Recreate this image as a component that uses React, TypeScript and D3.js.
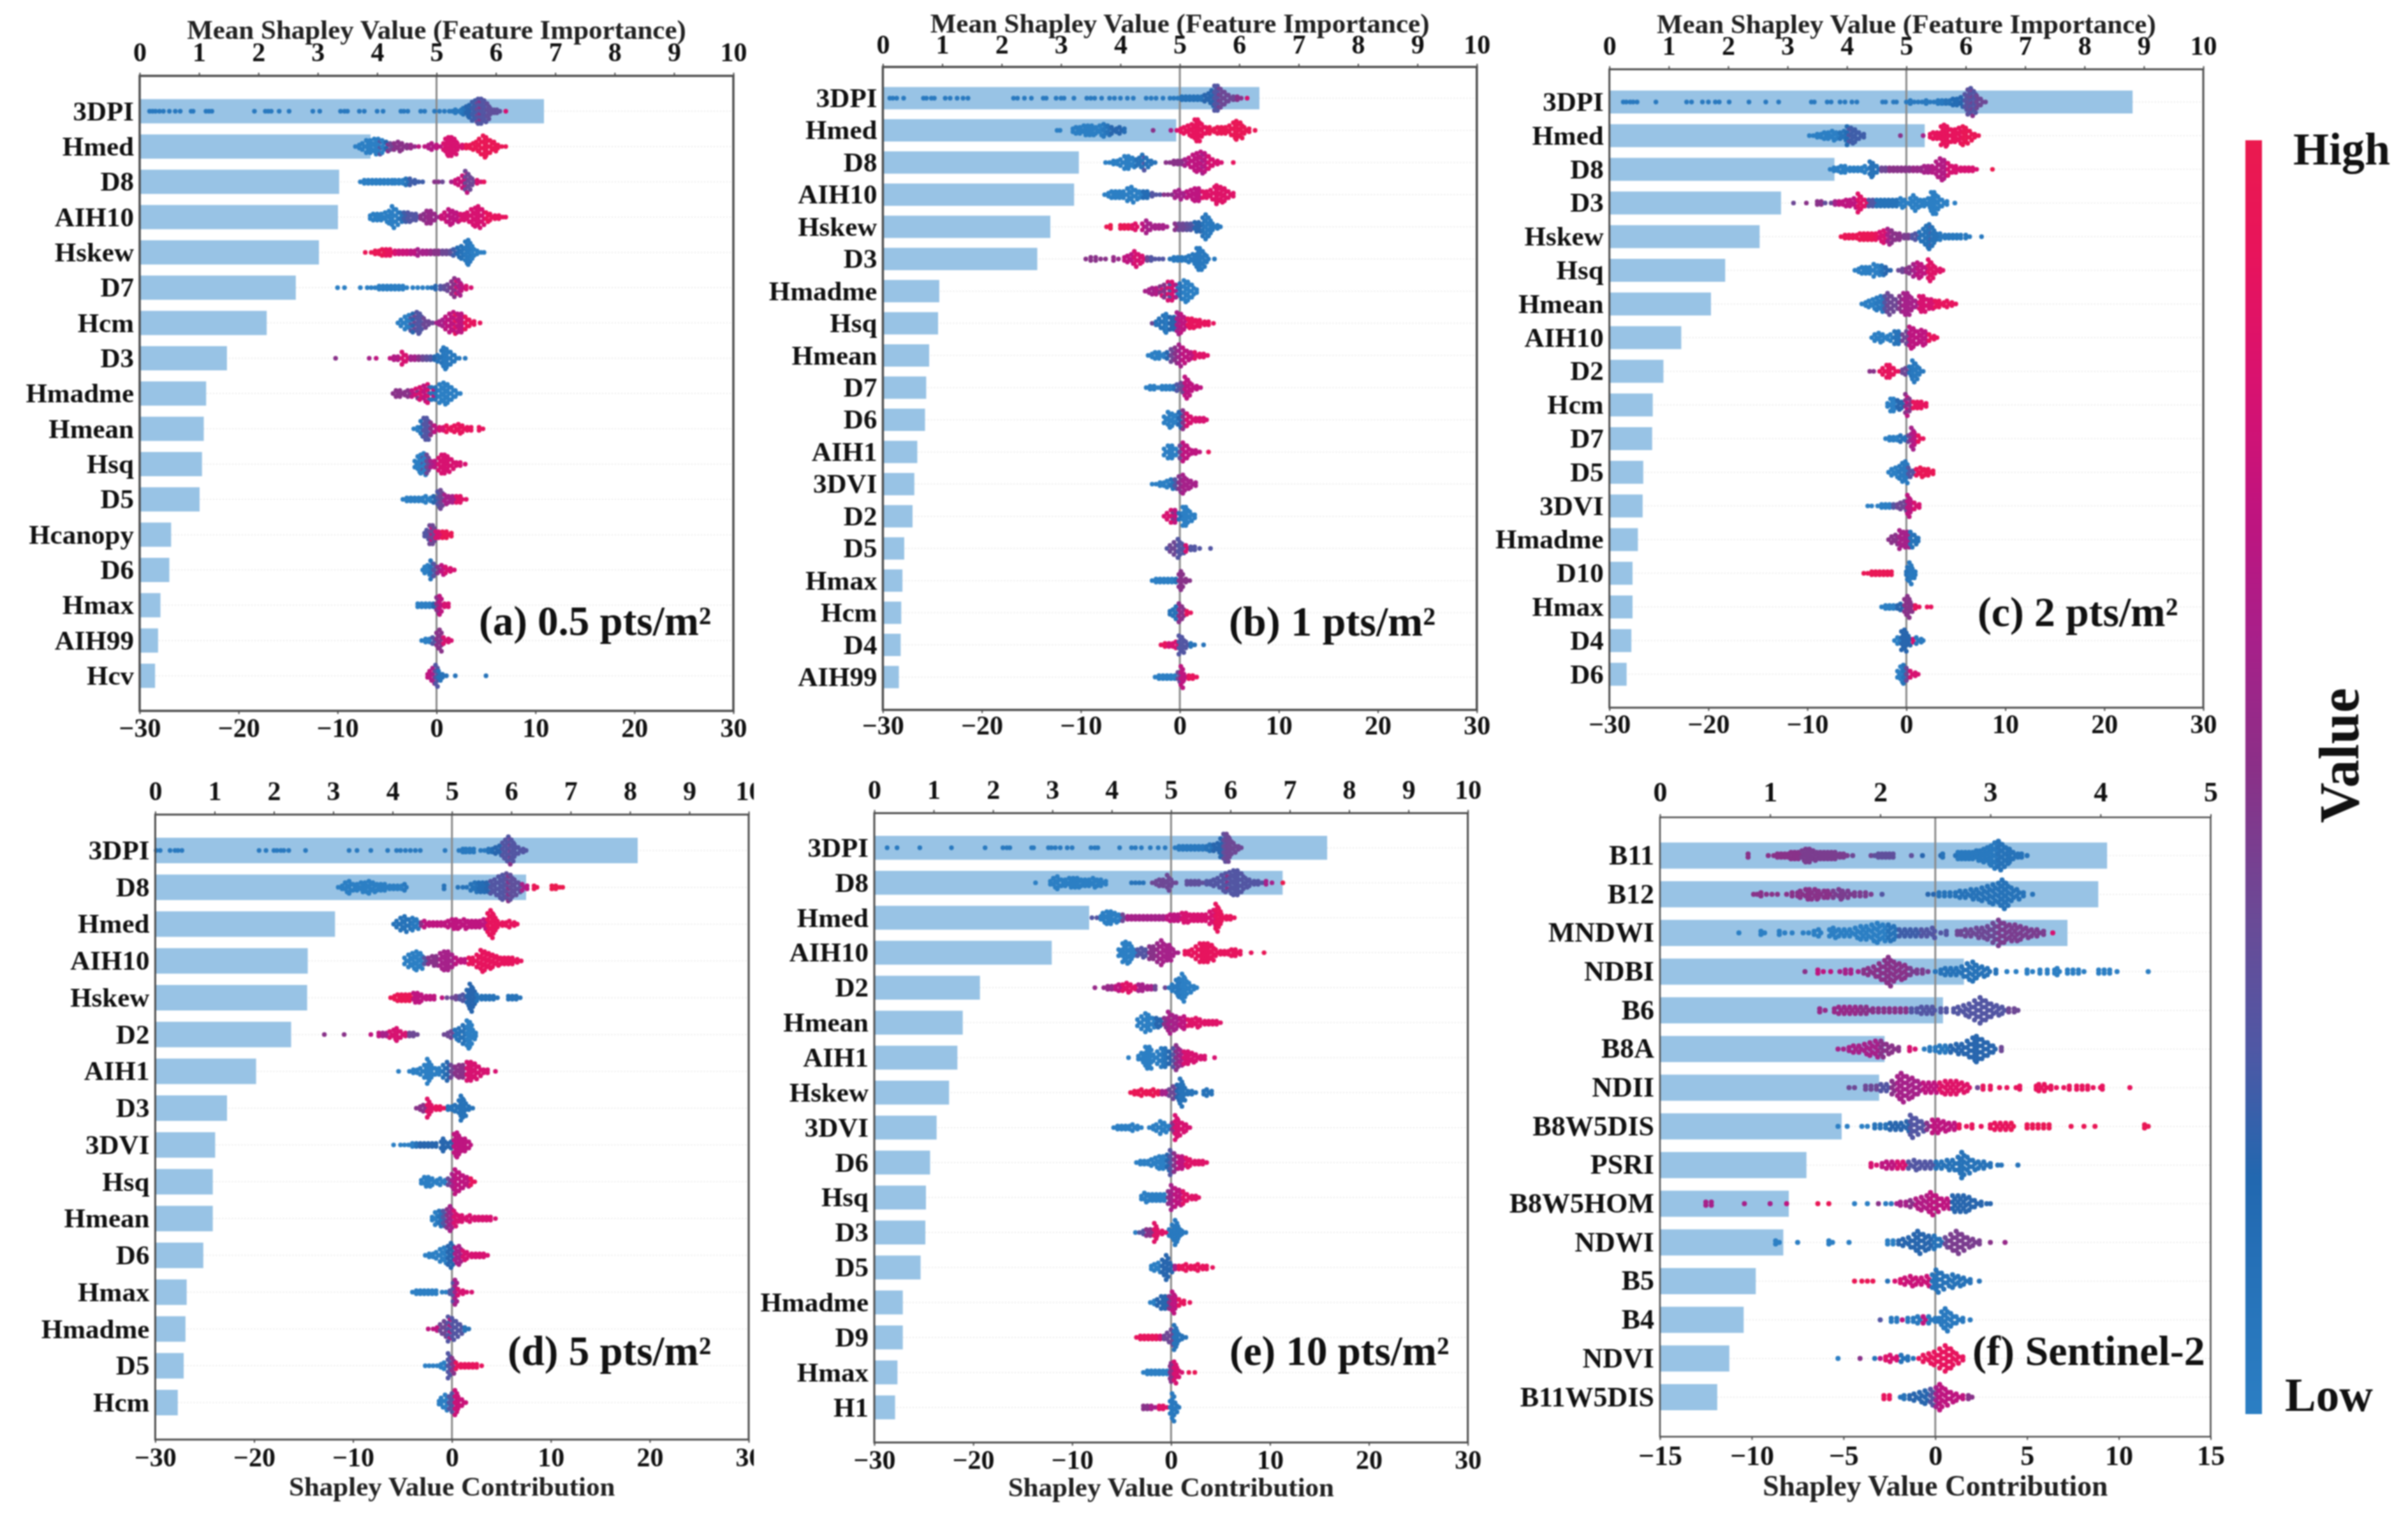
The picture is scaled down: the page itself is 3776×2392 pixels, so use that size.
import React, { useEffect, useRef } from "react";
import * as d3 from "d3";

// swarm rows: "x:count[:colour[:colour2]]", colour carries on to the next columns (0 = low, 1 = high)
const aLabels = ["3DPI", "Hmed", "D8", "AIH10", "Hskew", "D7", "Hcm", "D3", "Hmadme", "Hmean", "Hsq", "D5", "Hcanopy", "D6", "Hmax", "AIH99", "Hcv"];
const aBars = [6.81, 3.89, 3.36, 3.34, 3.02, 2.63, 2.14, 1.47, 1.12, 1.08, 1.05, 1.01, 0.53, 0.5, 0.35, 0.31, 0.26];
const aSwarm = [
  "-29:1:.05 -28.7:1 -28.4:1 -28:1 -27.6:1 -27:1 -26.4:1 -25.9:1 -24.8:1 -24.6:1 -23.3:1 -23:1 -22.7:1 -18.4:1 -17.3:1 -17:1 -16.7:1 -15.9:1 -14.9:1 -12.5:1 -11.8:1 -9.7:1 -9.3:1 -9:1 -7.8:1 -7.3:1 -6:1 -5.4:1 -3.6:1 -3.3:1 -2.9:1 -1.6:1 -1.2:1 -.2:1 .3:1 .8:1 1.3:1 1.6:1 1.9:2 2.2:1 2.5:2 2.8:3:.1 3.1:4:.2 3.4:5 3.7:7:.25 4:8:.25:.4 4.3:9:.3:.5 4.6:9 4.9:8 5.2:6:.35 5.5:3 5.8:2 6.1:2 6.4:1 7:1:.8",
  "-8.2:1:0 -7.8:2 -7.4:3 -7:5 -6.6:5 -6.2:6 -5.8:6:0:.3 -5.4:5 -5:4:.2:.5 -4.6:3:.4 -4.2:3:.5 -3.8:4 -3.4:3 -3:2 -2.6:2:.55 -2.2:1 -1.8:1:.7 -1.2:1 -.8:2:.65 -.4:3 0:2:.7 .4:1 .8:3:.8 1:6 1.3:7 1.6:7 1.9:6 2.2:3 2.6:2 3:2:.95 3.4:2 3.8:3 4.1:4 4.4:6 4.8:8 5.1:7 5.5:5 5.9:4 6.2:2 6.6:1 7:1",
  "-7.7:1:0 -7.3:2 -6.9:2 -6.5:2 -6.1:2 -5.7:2 -5.3:2 -4.9:2 -4.5:2 -4.2:2 -3.8:2 -3.4:2 -3:3:.1 -2.6:3:.25 -2.2:2 -1.8:1 -1.4:1 -.2:1:.5 .2:1 .6:1:.4 1.5:1:.6 1.9:2:.75 2.3:3 2.7:5 3:8:.4:.7 3.3:6 3.7:3 4.1:2:.8 4.5:1 4.8:1:.9",
  "-6.7:2:0 -6.3:3 -5.9:3 -5.5:3 -5.1:4 -4.7:5 -4.4:8:0 -4:6 -3.6:4:.1 -3.2:4:.25 -2.8:4:.3 -2.4:3 -2:3 -1.6:2:.5 -1.2:3 -.9:5:.55 -.5:5 -.1:3 .3:1 .5:2:.75 .9:4 1.3:6:.7 1.7:5 2.1:4 2.5:3:.8 2.9:3 3.2:4 3.6:6 4:7 4.3:8 4.7:6 5.1:4:.9 5.5:3 5.9:2 6.3:2 6.7:1 7:1",
  "-7.2:1:.95 -6.6:1 -6.2:2 -5.8:2 -5.4:3 -5:3:.9 -4.6:3 -4.2:2:.8 -3.8:2:.75 -3.4:2 -3:2 -2.6:2:.7 -2.2:2 -1.8:3:.6 -1.4:2 -1:2 -.6:2:.55 -.2:2:.5 .2:2 .6:2:.4 1:2 1.4:2:.35 1.8:3:.25 2.2:4:.15 2.6:5:.1 3:8:.05 3.3:9 3.7:5:0 4.1:2 4.5:1 4.8:1",
  "-10:1:0 -9.3:1 -7.7:1 -7:1 -6.6:1 -6.2:1 -5.8:2 -5.4:2 -5:2 -4.6:2 -4.2:2 -3.8:2 -3.4:2 -3:1 -2.4:1 -1.9:1 -1.4:1 -.9:1 -.5:1:.1 -.1:2:.2 .4:2:.3 .8:2:.35 1.2:3:.4 1.6:5:.5 1.9:7:.5:.8 2.3:6:.6 2.6:3:.7 3:2:.8 3.5:1",
  "-3.9:1:0 -3.5:3 -3.1:5 -2.7:6:0:.3 -2.3:7:.2:.4 -1.9:8:.3 -1.6:7 -1.2:4:.4 -.8:2 -.4:1 0:1:.6 .3:2 .7:3 1:5:.7 1.4:7 1.8:8:.7:.9 2.2:7 2.6:7 3:5:.9 3.4:3 3.8:2 4.4:1",
  "-10.2:1:.5 -6.8:1:.6 -6.1:1:.7 -4.7:1 -4.3:2:.65 -3.9:2 -3.4:5:.8 -3:3 -2.6:2:.6 -2.2:2 -1.8:2:.5 -1.4:2:.4 -1:2:.35 -.6:2:.3 -.2:2:.2 .2:3:.1 .6:6 .8:8:.05 1.1:7 1.5:5 1.9:3 2.3:1 2.9:1",
  "-4.4:1:.5 -4:3 -3.6:3 -3.2:2 -2.8:3 -2.4:3:.7 -2:4:.8:.5 -1.6:5 -1.2:6:.7 -.8:7:.8:.3 -.4:5:.1:.7 0:5:.1 .4:7:0 .8:8 1.2:7 1.6:5 2:3 2.4:1",
  "-2.3:1:0 -1.9:2 -1.5:6:.1 -1.2:8:.3 -.9:8 -.5:5:.5 -.1:3:.7 .3:2:.8 .7:2 1.1:3:.9 1.5:2 1.9:3 2.3:4 2.7:3 3.1:2 3.5:2 4.3:2 4.7:1",
  "-2.1:3:0 -1.8:6 -1.5:7:0:.3 -1.2:8 -.9:7:.4 -.5:3:.6 -.1:3:.7 .3:5:.8 .6:7 .9:7 1.2:6 1.6:4 2:2 2.4:2 2.9:1",
  "-3.4:1:0 -3:2 -2.6:2 -2.2:2 -1.8:2 -1.4:2 -1:3 -.6:2 -.2:3:.2 .2:6:.3 .5:7:.4 .9:4:.6 1.3:3 1.7:3 2.1:3:.85 2.5:3 3:1",
  "-1.2:2:.3 -.9:4 -.6:7:.4:.7 -.3:7 0:3:.8 .3:3 .7:3:.95 1.1:3 1.5:2",
  "-1.4:1:0 -1.1:3 -.8:4 -.5:7:.1 -.2:5:.3 .2:3:.5 .6:4:.7 1:3:.8 1.4:2 1.8:1",
  "-1.9:2:0 -1.5:2 -1.1:2 -.7:2 -.3:2:.2 .1:6:.5 .4:7:.7 .8:2:.8 1.2:2",
  "-1.5:1:0 -1.1:2 -.7:2 -.3:3:.3 .1:6:.5 .4:8 .8:3:.8 1.2:2 1.5:1",
  "-.9:2:.7 -.6:4 -.3:6:.6 0:8:.3 .3:4:.1 .6:2 1:1 1.9:1 5:1",
];

const bLabels = ["3DPI", "Hmed", "D8", "AIH10", "Hskew", "D3", "Hmadme", "Hsq", "Hmean", "D7", "D6", "AIH1", "3DVI", "D2", "D5", "Hmax", "Hcm", "D4", "AIH99"];
const bBars = [6.34, 4.94, 3.3, 3.22, 2.82, 2.6, 0.95, 0.93, 0.78, 0.73, 0.71, 0.58, 0.53, 0.5, 0.36, 0.33, 0.31, 0.3, 0.27];
const bSwarm = [
  "-29.3:1:.05 -29:1 -28.6:1 -27.9:1 -25.9:1 -25.6:1 -25.1:1 -24.8:1 -23.7:1 -23.2:1 -22.5:1 -21.9:1 -21.4:1 -16.8:1 -16.4:1 -15.7:1 -15:1 -13.8:1 -13.5:1 -12.5:1 -12:1 -11.7:1 -10.7:1 -9.4:1 -9:1 -8.6:1 -7.9:1 -7.1:1 -6.6:1 -6:1 -5.3:1 -4.7:1 -3.4:1 -2.9:1 -2.4:1 -1.7:1 -1:1 -.6:1 -.2:1 .2:2:.1 .6:2 1:2 1.4:2 1.8:2 2.2:2 2.6:3:.2 3:4 3.3:6 3.6:9:.3 3.9:9:.3:.5 4.2:7:.4 4.6:5 5:3 5.4:2 5.8:2:.5 6.2:1 6.8:1:.8",
  "-12.4:1:0 -12.1:1 -10.8:2 -10.4:3 -10:3 -9.6:4 -9.2:4 -8.8:4 -8.4:3 -8:4 -7.6:5:.05 -7.2:4:.1 -6.8:3:.2 -6.4:2 -6:3 -5.6:2:.15 -2.7:1:.5 -.9:1:.6 -.3:1:.8 .1:2:.9 .5:3 .9:4 1.3:5 1.6:8 1.9:8 2.3:5 2.7:3 3.1:3:.95 3.5:2 3.9:3 4.3:3 4.7:3 5.1:4 5.5:6 5.8:7 6.2:6 6.6:3 7:2 7.6:1",
  "-7.5:1:0 -7.1:1 -6.7:2 -6.3:2 -5.9:3 -5.5:5 -5.1:5 -4.7:4 -4.3:3:.1 -4:4 -3.7:6:.1:.3 -3.3:4 -2.9:2 -2.5:1 -1.4:1:.5 -1:1 -.6:2 -.2:2 .2:2 .6:3:.6 1:4:.7 1.4:6 1.8:7 2.2:8:.7:.6 2.6:7 3:5:.8 3.4:3 3.8:2 4.2:1 5.4:1:.9",
  "-7.6:1:0 -7.2:2 -6.8:3 -6.4:3 -6:3 -5.6:3 -5.2:5 -4.8:6 -4.4:4 -4:3 -3.6:3:.15 -3.2:3 -2.8:2:.3 -2.4:1 -2:1 -1.6:1:.5 -1.2:1 -.8:1 -.4:3:.6 0:4 .4:2 .8:3:.7 1.2:4 1.6:5 2:5 2.4:3:.85 2.8:3 3.2:4 3.6:6 3.8:7 4.2:6 4.6:5 5:3 5.4:2",
  "-7.4:1:.95 -7:2:1 -6:2:.95 -5.6:2 -5.2:2 -4.8:2:.85 -4.4:3 -3.7:3:.7 -3.3:5:.6 -2.9:3 -2.5:2 -2.1:2 -1.7:2 -1.3:1 -.4:3:.5 0:3:.4 .4:3 .8:3:.35 1.2:3:.3 1.6:4:.2 2:4 2.4:7:.1 2.7:9:.05 3:7 3.4:3 3.8:2 4.1:1",
  "-9.5:1:.5 -9:2 -8.5:2 -8:1 -7.5:1 -6.7:2:.55 -6.2:1 -5.6:2:.7 -5.2:3 -4.8:4 -4.5:6:.8 -4.1:4 -3.7:3 -3.3:2:.4 -2.9:2:.3 -2.5:1 -2.1:1 -1.7:1 -1:1:.1 -.6:2:.05 -.2:2 .2:2 .6:2 1:3 1.4:4 1.8:8 2.1:8 2.4:6 2.8:3 3.5:1",
  "-3.5:1:.6 -3.1:2 -2.7:3 -2.3:3:.65 -1.9:4:.5:.8 -1.5:5 -1.1:7:.8:.3 -.7:7 -.3:5:.6:.05 .1:6:.1 .5:8:0 .9:7 1.3:5 1.7:2",
  "-2.8:1:.4 -2.4:2:.1 -2:4 -1.6:6 -1.3:7:.05 -.9:5:.2 -.5:5 -.2:8:.6 .2:7:.7 .5:5 .9:4:.9 1.3:4 1.7:3 2.1:3 2.5:2 2.9:2 3.4:1",
  "-3.2:1:0 -2.8:2 -2.4:3 -2:3 -1.6:2 -1.2:3:.2 -.8:5:.4 -.4:6:.5 0:8:.6 .4:6:.7 .8:4 1.2:3 1.6:3:.85 2:2 2.4:2 2.8:1",
  "-3.4:1:0 -3:2 -2.6:2 -2.2:1 -1.8:2 -1.4:2 -1:2 -.6:2:.1 -.2:3:.3 .2:4:.4 .6:8:.7 .9:6 1.3:3 1.7:2 2.1:1",
  "-1.5:3:0 -1.1:6 -.7:5 -.3:4 0:6:.2 .4:7:.5 .8:5:.8 1.2:3 1.6:2 2:2 2.4:2 2.7:1",
  "-1.5:3:0 -1.1:5 -.7:5 -.3:3 .1:5:.4 .4:7:.7 .8:5 1.2:2 1.6:2 2:1 2.9:1:.9",
  "-2.8:1:0 -2.4:1 -2:2 -1.6:2 -1.2:3 -.8:4:.1 -.4:4:.3 0:6:.5 .4:7:.6 .8:4 1.2:3 1.6:2",
  "-1.6:1:.8 -1.2:3 -.8:5:.8:.5 -.4:5:.7 0:3:.1 .4:7:0 .7:7 1.1:4 1.5:2",
  "-1.3:1:.3 -.9:3:.4 -.5:5 -.1:7:.3 .3:4 .7:3:.8 1.1:2:.3 1.5:2 2:1 3.1:1",
  "-2.8:1:0 -2.4:2 -2:2 -1.6:2 -1.2:2 -.8:2 -.4:2:.1 0:5:.5 .2:7 .6:2 1:1",
  "-1:2:.1 -.6:3 -.3:5 0:7:.5:.7 .3:5 .7:2:.9 1.1:1",
  "-1.9:1:.9 -1.5:2 -1.1:2:.8 -.7:2 -.3:3 0:7:.3 .3:6 .7:3 1.1:2:.1 1.5:1 2.4:1",
  "-2.5:1:0 -2.1:2 -1.7:2 -1.3:2 -.9:2 -.5:2 -.1:4:.4 .2:8:.7 .5:3 .9:2:.9 1.3:2 1.7:1",
];

const cLabels = ["3DPI", "Hmed", "D8", "D3", "Hskew", "Hsq", "Hmean", "AIH10", "D2", "Hcm", "D7", "D5", "3DVI", "Hmadme", "D10", "Hmax", "D4", "D6"];
const cBars = [8.81, 5.31, 3.79, 2.89, 2.53, 1.95, 1.71, 1.21, 0.91, 0.73, 0.72, 0.57, 0.56, 0.48, 0.39, 0.39, 0.37, 0.29];
const cSwarm = [
  "-28.6:1:.05 -28.3:1 -27.9:1 -27.6:1 -27.2:1 -25.3:1 -22.2:1 -21.7:1 -20.6:1 -20:1 -19.3:1 -18.9:1 -17.9:1 -15.9:1 -14.2:1 -12.9:1 -9.6:1 -9.3:1 -8:1 -7.6:1 -6.7:1 -6.2:1 -5.5:1 -5:1 -2.4:1 -2.1:1 -1.3:1 -1:1 0:1 .4:2 .8:1 1.2:1 1.6:1 2:2 2.4:1 2.8:1 3.2:2 3.6:2 4:2:.1 4.4:2 4.8:3:.15 5.2:3 5.6:4:.2 6:6:.3 6.3:9:.35 6.6:10:.3:.5 6.9:8 7.2:5:.4 7.6:3 8:1",
  "-9.8:1:0 -9.4:1 -9:2 -8.6:2 -8.2:3 -7.8:3 -7.4:4 -7:3 -6.6:3:.1 -6.2:4 -5.9:7:.15:.3 -5.5:6:.25 -5.1:5 -4.7:3 -4.3:2 -.6:1:.5 1.7:1:.6 2.4:2:.9 2.8:3 3.2:3 3.6:7 3.9:8 4.2:7 4.6:5 5:5 5.4:6 5.8:7:.95 6.1:6 6.5:4 6.9:2 7.3:1",
  "-7.7:1:0 -7.3:2 -6.9:2 -6.5:3 -6.1:3 -5.7:2 -5.3:2 -4.9:2 -4.5:2 -4.1:3 -3.6:6:.1 -3.3:5 -2.9:3 -2.5:2:.4 -2.1:2 -1.7:2:.5 -1.3:2 -.9:2 -.5:2 -.1:2 .3:2 .7:2:.55 1.1:2 1.5:2 1.9:3:.6 2.3:3 2.7:3:.65 3.1:6 3.5:8 3.9:7 4.3:5:.8 4.7:3 5.1:3 5.5:2 5.9:2 6.3:2 6.7:2 7.1:1 8.7:1:1",
  "-11.4:1:.4 -10.1:1:.5 -9:2 -8.6:2 -8.2:1:.35 -7.6:1:.4 -7.2:2:.6 -6.8:2:.7 -6.4:2 -6:3 -5.6:3 -5.2:4 -4.8:7:.85 -4.5:5 -4.1:3 -3.7:3:.3 -3.3:3 -2.9:3:.1 -2.5:3 -2.1:3 -1.7:3 -1.3:3 -.9:3 -.5:4:0 -.1:3 .2:1 .5:4 .8:6 1.1:4 1.5:3 1.9:3 2.3:4 2.6:8 2.9:8 3.3:5 3.7:3 4.1:2 4.9:1",
  "-6.6:1:.95 -6.2:2 -5.8:2 -5.4:2 -5:2 -4.6:3 -4.2:3 -3.8:3 -3.4:3 -3:3:.9 -2.6:4:.8 -2.2:5 -1.8:6:.6 -1.4:5:.5 -1:3 -.6:3 -.2:2:.45 .2:2 .6:2:.3 1:3 1.4:4:.1 1.8:6 2.1:8 2.4:9:.1:.3 2.7:7 3.1:3 3.5:3:.05 3.9:2 4.3:2 4.7:2 5.1:2 5.5:2 6:2 6.4:1 7.6:1",
  "-5.2:1:0 -4.8:2 -4.4:3 -4:3 -3.6:3 -3.2:5 -2.8:4 -2.4:4:.1 -2:3:.2 -1.6:1 -.8:1:.4 -.4:2 0:2:.5 .4:3 .8:5:.6 1.2:6:.7 1.6:5 2:3 2.3:8:.85 2.6:6 3:3 3.4:2 3.7:1",
  "-4.5:1:0 -4.1:2 -3.7:3 -3.3:4 -2.9:5:.05 -2.5:6 -2.1:6:.3 -1.8:8:.4 -1.4:6 -1:4 -.6:6:.5 -.2:8:.6 .2:8 .6:5 1:3 1.4:6:.8 1.8:6 2.2:4 2.6:4 3:3:.9 3.4:3 3.8:2 4.2:3 4.6:2 5:1",
  "-3.5:1:0 -3.1:3 -2.7:4 -2.3:3 -1.9:2 -1.5:3 -1.1:5:.1 -.7:5 -.3:3:.4 .1:5 .4:8:.7 .8:7 1.2:5 1.6:6 2:5 2.4:3:.9 2.8:2 3.1:1",
  "-3.7:1:.5 -3.3:1 -2.7:1:.9 -2.3:3 -1.9:5 -1.6:5 -1.2:3 -.8:1 -.4:2:.4 0:3 .4:4:.1 .7:8:.05 1:6 1.4:3 1.7:1",
  "-1.9:2:0 -1.5:5 -1.2:5 -.8:4:.2 -.4:3 0:8:.5:.7 .4:5 .8:3:.9 1.2:3 1.6:3 2:2",
  "-2.1:1:0 -1.7:2 -1.3:2 -.9:2 -.5:3:.1 -.1:2 .3:3:.4 .6:8:.6 .9:5:.7 1.3:3:.9 1.7:1",
  "-1.8:1:0 -1.4:3 -1:4 -.6:5:.05 -.3:7 0:8 .3:4:.3 .7:2 1.1:3:.9 1.5:4:.95 1.9:3 2.3:3 2.7:2",
  "-3.9:1:0 -3.5:1 -2.9:1 -2.5:2 -2.1:2 -1.7:2 -1.3:2:.3 -.9:2:.4 -.5:3 -.1:4 .2:8:.7 .5:5 .9:3:.8 1.3:2",
  "-1.8:1:.5 -1.4:3 -1:4 -.6:7:.6 -.2:6 .2:6 .5:6:.1 .9:4 1.2:2",
  "-4.3:1:.95 -3.9:1 -3.5:2 -3.1:2 -2.7:2 -2.3:2 -1.9:2 -1.5:2 0:2:.1 .2:5 .4:8:.05 .7:4 .9:2",
  "-2.5:1:0 -2.1:2 -1.7:2 -1.3:2 -.9:2:.2 -.5:3 -.1:6:.5 .2:8 .5:4 .9:2:.9 1.3:1 2.1:1 2.5:1",
  "-1.2:1:0 -.8:3 -.4:7:.2 -.1:8 .3:4 .7:2:.8 1.1:3:.05 1.5:2 1.7:1",
  "-.8:3:0 -.5:6 -.2:7:.1 .1:5:.4 .5:3:.8 .9:2 1.2:1",
];

const dLabels = ["3DPI", "D8", "Hmed", "AIH10", "Hskew", "D2", "AIH1", "D3", "3DVI", "Hsq", "Hmean", "D6", "Hmax", "Hmadme", "D5", "Hcm"];
const dBars = [8.13, 6.25, 3.03, 2.57, 2.56, 2.29, 1.7, 1.21, 1.01, 0.97, 0.97, 0.81, 0.53, 0.51, 0.48, 0.38];
const dSwarm = [
  "-29.9:1:.05 -29.5:1 -28.5:1 -28:1 -27.7:1 -27.3:1 -19.5:1 -18.8:1 -18:1 -17.7:1 -17.3:1 -17:1 -16.5:1 -14.8:1 -10.4:1 -9.6:1 -8.2:1 -6.5:1 -5.6:1 -5.2:1 -4.7:1 -4.2:1 -3.7:1 -3.2:1 -.7:1 .7:1 1.1:2 1.4:2 1.8:2 2.2:2 2.9:1 3.3:1 3.7:2:.1 4.1:2:.15 4.5:3:.2 4.9:4 5.2:6:.3 5.5:8 5.8:10:.3:.5 6.1:8 6.4:5 6.8:3 7.2:2 7.5:1",
  "-11.5:1:0 -11.1:2 -10.7:4 -10.3:5 -9.9:3 -9.5:3 -9.1:4 -8.7:4 -8.3:5 -7.9:4 -7.5:3 -7.1:3 -6.7:3 -6.3:2 -5.9:2 -5.5:2 -5.1:2 -4.7:3:.05 -.8:2:.1 .6:1 1.1:1 1.5:1 2:3:.1 2.4:4 2.8:4:.15 3.2:4 3.6:4:.2 4:5:.3 4.4:6 4.8:8 5.2:9 5.6:10:.35:.5 6:9 6.4:6 6.8:4 7.2:3:.6 7.6:2:.7 8.3:2:.95 8.6:1 10.1:2:1 10.5:2 10.9:1 11.2:1",
  "-5.9:1:.1 -5.5:3 -5.1:5 -4.7:6 -4.3:4 -3.9:5:.05 -3.5:4 -3.1:2:.5 -2.7:3:.7 -2.3:2 -1.9:2 -1.5:2 -1.1:2 -.7:2 -.3:3 .1:4 .5:4 .9:3 1.3:4 1.7:3 2.1:3 2.5:3 2.9:3 3.3:4 3.7:8:.9 4:10 4.3:7 4.7:3 5.1:2 5.5:2 5.9:3 6.3:2 6.6:1",
  "-4.7:3:0 -4.3:5 -3.9:6 -3.5:7 -3.1:6 -2.7:3:.3 -2.3:3:.5 -1.9:4 -1.5:4 -1.1:6:.6 -.7:7 -.3:7 .1:5 .5:3:.7 .9:2 1.3:2 1.8:3:.9 2.2:3 2.6:5 3:8 3.4:7 3.8:6 4.2:5 4.6:4 5:3 5.4:3 5.8:3 6.2:3 6.6:2 7:1",
  "-6.2:1:.95 -5.8:2 -5.4:3 -5:3 -4.6:3 -4.2:3 -3.8:4:.7 -3.4:4 -3:3 -2.6:2 -2.2:2 -1.8:2 -1:1 -.5:1:.4 0:1 .4:2 .8:2:.3 1.2:3 1.6:6:.2 1.9:10 2.2:7 2.6:3:.1 3:2 3.4:2 3.8:2 4.2:2 4.6:1 5.7:2 6.1:2 6.5:2 6.9:1",
  "-12.9:1:.5 -10.9:1 -8.2:1:.7 -7.4:2 -7:2:.6 -6.6:2 -6.2:3:.8 -5.8:4 -5.5:5 -5.1:3 -4.7:2 -4.3:2:.4 -3.9:2 -3.5:1 -.8:1 -.4:2 0:3 .4:4:.1 .8:5 1.2:7 1.6:10:0 1.9:9 2.2:4 2.4:2",
  "-5.4:1:0 -4.3:1 -3.9:2 -3.5:2 -3.1:3 -2.7:5 -2.4:9 -2:5 -1.6:3 -1.2:3 -.8:5:.1 -.4:7:.2 0:5:.4 .4:4:.5 .8:5 1.2:5 1.6:7:.8 2:7 2.4:6 2.8:4 3.2:2 3.6:2 4.4:1",
  "-3.6:1:.5 -3.2:2 -2.8:3 -2.4:7:.85 -2:3 -1.6:2:.9 -1.2:2 -.8:1 -.4:2:.1 0:2 .4:3 .8:6 1:9 1.3:6 1.7:2 2.1:1",
  "-5.9:1:0 -5.2:1 -4.8:1 -4.4:1 -4:2 -3.6:2:.1 -3.2:2:.2 -2.8:2 -2.4:2 -2:2 -1.6:2 -1:3 -.8:5 -.4:2 0:3 .3:8:.7 .6:9 1:5 1.4:5 1.8:3",
  "-3.1:2:0 -2.7:4 -2.3:4 -1.9:3 -1.5:2 -1.1:3 -.7:2 -.3:3:.4 .1:6:.6 .4:9:.7 .8:7 1.2:5 1.6:4 2:3:.9 2.3:1",
  "-2:2:0 -1.6:5 -1.2:6:.1 -.8:6:.3 -.4:7:.5 -.1:9:.6 .3:6:.8 .7:3 1.1:3 1.5:2 1.9:3 2.3:2 2.7:2 3.1:2 3.5:2 3.9:2 4.4:1",
  "-2.7:1:0 -2.3:2 -1.9:2 -1.5:3 -1.1:5 -.7:6 -.3:7:.2 0:9 .4:6:.6 .8:7 1.2:4:.8 1.6:3 2:2 2.4:2 2.8:2 3.2:2 3.6:1",
  "-4:1:0 -3.6:2 -3.2:2 -2.8:2 -2.4:2 -2:2 -1.6:2 -1:1 -.6:1 -.2:2:.3 .2:7 .4:9:.6 .7:3:.8 1.1:2 1.5:1 2:1",
  "-2.4:1:.7 -1.9:1 -1.5:2 -1.1:4:.4 -.7:6 -.3:9:.3:.7 .1:8 .5:6 .9:4 1.3:2:.1 1.7:1",
  "-2.7:1:0 -2.3:1 -1.9:1 -1.5:1 -1.1:2 -.7:3 -.3:9:.3 .1:6:.5 .5:3:.9 .9:2 1.3:2 1.7:2 2.1:2 2.5:2 3:1",
  "-1.3:2:0 -1:4 -.6:6 -.2:5:.3 .1:7 .4:9:.75 .7:5 1.1:3 1.4:1",
];

const eLabels = ["3DPI", "D8", "Hmed", "AIH10", "D2", "Hmean", "AIH1", "Hskew", "3DVI", "D6", "Hsq", "D3", "D5", "Hmadme", "D9", "Hmax", "H1"];
const eBars = [7.63, 6.88, 3.62, 2.99, 1.78, 1.49, 1.4, 1.26, 1.05, 0.94, 0.87, 0.86, 0.78, 0.48, 0.48, 0.39, 0.35];
const eSwarm = [
  "-28.7:1:.05 -27.7:1 -25.4:1 -22.2:1 -18.8:1 -17:1 -16.6:1 -16.3:1 -14.1:1 -13.9:1 -12.4:1 -12.1:1 -11.7:1 -11.2:1 -10.5:1 -10:1 -8.1:1 -7.7:1 -7.4:1 -5.2:1 -4:1 -3.6:1 -3:1 -2.1:1 -1.3:1 -.6:1 .4:1 .8:2 1.2:2 1.6:2 2:2 2.4:2 2.8:2 3.2:2 3.6:2:.1 4:3 4.4:3:.2 4.8:4 5.1:7 5.4:10:.35 5.7:10:.4 6:7 6.4:4 6.8:2 7.1:1",
  "-13.7:1:0 -12.2:2 -11.8:4 -11.4:5 -11:3 -10.6:3 -10.2:4 -9.8:4 -9.4:4 -9:3 -8.6:3 -8.2:3 -7.8:4 -7.4:3 -7:3 -6.6:2 -4:1:.1 -3.6:1 -3.2:1 -2.8:1 -1.9:1:.4 -1.5:2 -1.1:3 -.7:3 -.3:6 .1:3 .5:1 1.6:2:.35 2:2 2.4:2 2.8:2 3.2:1 3.6:2:.3 4:2 4.4:3 4.8:4 5.2:6 5.6:7:.3:.5 6:8 6.4:9 6.8:9 7.2:7 7.6:4 8:3 8.4:2 8.8:2 9.2:1 9.6:2:.6 10.2:1 11.3:1:1",
  "-8:1:.3 -7.5:1 -7.1:2:0 -6.8:4 -6.4:5 -6:5 -5.6:4 -5.2:3 -4.8:3:.4 -4.4:2:.6 -4:2 -3.6:2 -3.2:2 -2.8:2 -2.4:2 -2:2 -1.6:2 -1.2:2 -.8:2 -.4:2:.7 0:3 .4:3 .8:3 1.2:4:.8 1.6:4 2:3 2.4:3 2.8:3 3.2:3 3.6:3 4:5 4.4:6 4.6:10:.9 4.9:7 5.2:3 5.6:2 6:2 6.4:1",
  "-5.2:3:0 -4.8:7 -4.5:8 -4.1:7 -3.7:3 -3.3:3:.3 -2.9:4 -2.5:3 -2.1:5:.5 -1.7:5 -1.3:7:.55 -.9:9:.6 -.5:6 -.1:6 .3:3 .7:1 1.4:2:.9 1.8:2 2.2:3 2.6:5 3:7 3.4:7 3.8:7 4.2:6 4.6:3 5:2 5.4:2 5.8:2 6.2:3 6.6:3 7:2 8.1:1 9.4:1:.95",
  "-7.7:1:.55 -6.8:1 -6.4:2 -6:2 -5.6:2:.7 -5.2:3 -4.8:3:.85 -4.4:4 -4:3 -3.6:2 -3.2:3:.6 -2.8:3 -2.4:2 -2:2 -1.6:2:.4 -.6:1 -.2:1:.05 .2:3 .6:6 .9:7 1.2:10:0 1.5:7 1.9:4 2.3:2 2.6:1",
  "-3.3:3:0 -2.9:5 -2.5:7 -2.2:6 -1.8:4 -1.4:4:.2 -1:3 -.6:4:.5 -.2:8:.6 .2:6 .6:5 1:4:.7 1.4:5 1.8:3:.85 2.2:3 2.6:4 3:3 3.4:2 3.8:2 4.2:2 4.6:2 5:1",
  "-4.3:1:0 -3.3:2 -2.9:4 -2.5:8 -2.1:8 -1.7:3 -1.3:5 -.9:7:.05 -.5:7:.1 -.1:5:.2 .3:7:.3 .6:9:.5 1:6:.6 1.4:5:.8 1.8:5 2.2:4 2.6:3 3:2 3.4:2 4.4:1",
  "-4.1:1:.95 -3.7:2 -3.3:2 -2.9:3 -2.5:2 -2.1:2 -1.7:3 -1.3:2 -.9:2:.6 -.5:2 -.1:3:.4 .3:5 .7:6:.2 1:10:.1 1.3:6 1.7:2 2.1:2 2.5:1 3.3:2 3.7:3 4.1:2",
  "-5.8:1:0 -5.4:2 -5:2 -4.6:2 -4.2:2 -3.8:3 -3.4:2 -3:1 -2.2:1 -1.8:2 -1.4:3 -1:5 -.6:4 -.2:2 .2:4:.5 .5:9:.8 .8:6 1.2:4 1.6:3 1.9:1",
  "-3.5:1:0 -3.1:2 -2.7:2 -2.3:2 -1.9:3 -1.5:4 -1.1:5 -.7:5 -.3:6:.2 0:9:.3 .4:7:.5 .8:5:.7 1.2:5 1.6:4:.85 2:3 2.4:2 2.8:2 3.2:2 3.6:1",
  "-3:2:0 -2.6:4 -2.2:3 -1.8:3 -1.4:3 -1:3 -.6:3 -.2:5:.5 .1:9:.6 .5:7:.7 .9:6 1.3:5:.85 1.7:3 2.1:2 2.5:2 2.8:1",
  "-3.6:1:0 -3.2:1:.3 -2.8:2 -2.4:3:.5 -2:3 -1.6:7:.85 -1.3:3 -.9:2 -.5:1 -.1:3:.05 .2:6 .5:9 .8:5 1.1:2 1.5:1",
  "-2:2:0 -1.6:3 -1.2:4 -.8:6:.2 -.4:9 0:4 .4:2:.6 .8:2:.9 1.2:2 1.6:3 2:2 2.4:2 2.8:3 3.2:2 3.6:2 4.2:1",
  "-2.1:1:0 -1.7:2 -1.3:3:.2 -.9:5 -.5:5 -.1:5:.5 .2:8:.7 .5:5 .9:3:.9 1.3:2 1.9:1",
  "-3.5:1:.9 -3.1:2 -2.7:2 -2.3:2 -1.9:2 -1.5:2 -1.1:2:.8 -.7:2:.4 -.3:4 .1:6 .4:9:.1 .7:5 1.1:2 1.5:1",
  "-2.8:1:0 -2.4:2 -2:2 -1.6:2 -1.2:2 -.8:2 -.4:2 0:5:.5 .1:7 .4:8:.8 .7:4 1.1:1 1.8:1:.95 2.4:1",
  "-2.8:2:.5 -2.4:2 -2:2:.6 -1.6:1 -1.2:2:.85 -.8:2 -.4:1 0:5:.05 .2:10 .5:4 .8:1",
];

const fLabels = ["B11", "B12", "MNDWI", "NDBI", "B6", "B8A", "NDII", "B8W5DIS", "PSRI", "B8W5HOM", "NDWI", "B5", "B4", "NDVI", "B11W5DIS"];
const fBars = [4.06, 3.98, 3.7, 2.76, 2.57, 2.04, 1.99, 1.65, 1.33, 1.17, 1.12, 0.87, 0.76, 0.63, 0.52];
const fSwarm = [
  "-10.2:2:.5 -9.1:1 -8.8:1 -8.6:2 -8.4:2 -8.2:2 -8:2 -7.8:3 -7.6:3 -7.4:3 -7.2:4:.45 -7:5 -6.8:5 -6.6:4 -6.4:3 -6.2:3 -6:3 -5.8:3 -5.6:3 -5.4:3 -5.2:2 -5:2 -4.8:1 -4.5:1:.4 -3.5:1 -3.3:1:.35 -3.1:2 -2.9:2 -2.7:2 -2.5:2 -2.3:2 -1.3:1 -.7:1:.2 .3:1 .4:2:.1 1.1:1 1.3:3:.05 1.5:3 1.7:3 1.9:3 2.1:3 2.3:4 2.5:4 2.7:5 2.9:6 3.1:7 3.3:9 3.5:10:.1 3.7:8 3.9:6 4.1:5 4.3:3 4.5:2 4.7:2 5:1",
  "-9.9:1:.5 -9.7:1 -9.5:2 -9.2:1 -8.9:1 -8.6:1 -8.1:1 -7.8:2 -7.5:2 -7.3:3 -7:4 -6.8:4 -6.5:4 -6.3:3 -6:3 -5.8:3 -5.5:3:.45 -5.2:4 -5:3 -4.7:3 -4.4:2 -4.1:2 -3.8:2 -3.5:1 -2.9:1:.3 -.4:1:.2 -.1:1 .2:2:.1 .5:2 .8:2 1.1:2 1.4:3 1.7:3 2:4 2.3:4 2.6:5 2.9:6 3.2:7 3.5:8 3.7:10 3.9:8 4.2:5 4.5:4 4.8:2 5.3:1",
  "-10.7:1:0 -9.5:2 -9.3:1 -8.5:2 -8.2:1 -7.8:1 -7.2:1 -6.9:1 -6.6:2 -6.3:3 -5.7:3 -5.5:4 -5.2:3 -4.9:3 -4.6:3 -4.3:4 -4:5 -3.7:5 -3.4:6 -3.1:7 -2.8:6 -2.5:6:.1 -2.2:5 -1.9:3:.25 -1.6:3 -1.3:3 -1:3 -.7:3:.3 -.4:3 -.1:4 .3:1 .6:2 1.2:2:.4 1.4:2 1.7:3 2:3 2.3:4 2.6:4 2.9:5 3.2:7 3.5:9:.45 3.8:7 4.1:6 4.4:6 4.7:5 5:4 5.3:3 5.6:3 5.9:2 6.4:1:.8",
  "-7.1:1:.5 -6.4:2:.7 -6.1:1 -5.7:1 -5.2:1:.6 -4.9:2 -4.6:2 -4.2:1 -3.9:2:.5 -3.6:3 -3.3:4 -3:6 -2.7:8 -2.5:10 -2.2:7 -1.9:6 -1.6:5 -1.3:3:.45 -1:2 -.7:2 -.4:1 0:1:.1 .3:2 .6:3 .9:3 1.2:3 1.5:4 1.8:6 2.1:7 2.3:5 2.6:4 2.9:3 3.3:2 3.9:1:0 4.4:1 5:2 5.3:1 5.7:2 6.1:2 6.5:2 6.7:3 7.2:2 7.5:2 7.8:2 8.1:1 8.9:2 9.2:2 9.5:2 9.9:1 11.6:1",
  "-6.3:2:.55 -6:1 -5.5:2 -5.2:3 -4.9:3 -4.6:3 -4.3:3 -4:3:.5 -3.7:3 -3.4:2 -3.1:2 -2.8:2 -2.5:2 -2.2:2 -1.9:2 -1.6:2 -1.3:2:.3 -1:2 -.7:3 -.4:3 -.1:3 .3:2 .6:2 1:2 1.3:3 1.6:4 1.9:5 2.2:7 2.5:9 2.8:7 3.1:5 3.4:4 3.7:3 4:2:.4 4.3:2 4.5:1",
  "-5.3:1:.6 -5:1 -4.7:2 -4.4:3 -4.1:3 -3.8:4 -3.5:5 -3.2:6 -2.9:6:.5 -2.6:4 -2.3:3 -2:2 -1.4:2:.8 -1.1:1 -.6:1:.05 -.3:2 0:2 .3:3 .6:3 .9:3:.2 1.2:4 1.5:4 1.8:6 2.1:8 2.3:9 2.6:7 2.9:5 3.2:3 3.6:2:.4",
  "-4.7:1:.4 -4.4:1 -3.8:2 -3.5:2 -3.2:2 -2.9:3:.3 -2.6:3 -2.3:5:.5 -2:8:.6 -1.8:10 -1.5:8 -1.2:7 -.9:5 -.6:4:.7 -.3:4 0:4 .3:4:.85 .6:5 .9:5 1.2:5 1.5:4 1.8:3 2.3:1:.4 2.6:2:.9 3:2 3.5:1 3.9:1 4.4:1 4.6:2 5.5:2 5.7:3 6:3 6.3:2 6.6:1 7:1 7.3:2 7.7:2 8:2 8.3:2 8.6:1 9:1 9.1:2 10.6:1",
  "-5.3:1:0 -4.8:1 -4:1 -3.7:1 -3.3:2:.1 -3:2 -2.7:2 -2.4:3:.2 -2.1:3 -1.8:3 -1.5:4 -1.3:8:.3 -1:6 -.7:4 -.4:3:.5 -.1:5:.7 .2:5 .5:4 .8:3 1.1:3 1.3:2:.9 1.7:1 2:2 2.5:1 3:2 3.3:3 3.6:3 3.9:3 4.2:3:.95 5:2 5.3:2 5.6:2 5.9:2 6.2:2 7.4:1 8.1:1 8.7:1 11.4:2 11.6:1",
  "-3.5:2:.8 -3.2:1 -2.9:2:.7 -2.6:3 -2.3:3 -2:3:.8 -1.7:3 -1.4:3:.3 -1.1:4 -.8:3 -.5:3 -.2:3 .1:3:.1 .4:3 .7:4 1:4 1.3:6 1.5:9 1.8:6 2.1:4 2.4:3 2.7:3 3:2 3.4:1 3.6:1 4.5:1",
  "-12.5:2:.6 -12.2:2 -10.4:1 -9:1 -8.1:1:.7 -6.4:1:.95 -5.8:1 -4.4:1:0 -3.7:1 -3.1:1:.5 -2.7:1:.05 -2.4:1 -2.1:1:.6 -1.9:2 -1.6:2 -1.3:3:.5 -1:4:.65 -.7:5 -.4:6 -.2:8:.7 .1:6 .4:4 .7:4 1:6:.2 1.3:6 1.6:6 1.9:5 2.2:3 2.5:2 2.8:1 3:1",
  "-8.7:2:0 -8.5:1 -7.5:1 -5.8:2 -5.6:1 -4.7:1 -2.6:2 -2.3:2 -2:2:.2 -1.7:3 -1.4:4 -1.1:6 -.9:8 -.6:6 -.3:5 0:5:.1 .3:3 .6:4:.4 .9:6:.45 1.2:8 1.5:6 1.8:4 2.1:3 2.4:2 3:1:.5 3.8:1:.55",
  "-4.4:1:.95 -4:1 -3.7:1 -3.4:1 -2.6:1:.1 -2.2:1:.8 -1.9:2 -1.6:3:.75 -1.3:4 -1:3 -.7:3 -.4:4 -.1:5:.1 .1:8 .4:6 .7:4 1:5 1.3:4 1.6:3 1.9:2 2.4:1",
  "-3:1:.3 -2.4:2:.05 -2.1:2 -1.8:1:.7 -1.5:2:.05 -1.2:2 -.9:3 -.6:3:.7 -.3:3:.05 0:2 .2:2 .4:6 .6:8:.05 .9:5 1.2:3 1.5:2 1.9:1",
  "-5.3:1:0 -4.1:1:.5 -3.3:1:.1 -3:1:.7 -2.7:2:.85 -2.4:3:.8 -2.1:2 -1.8:3:.1 -1.5:2 -1.2:1 -.9:1:.9 -.6:3 -.3:4 0:5 .3:7 .6:9 .9:7 1.2:4 1.5:2",
  "-2.8:2:.9 -2.5:2 -1.9:1:.1 -1.7:2 -1.4:2:.2 -1.1:3 -.8:4 -.5:5 -.2:6:.3 .1:7:.6 .3:9:.7 .6:6 .9:4 1.2:3 1.5:2 1.8:2:.5 2:1",
];

const colorStops = [0, 0.186, 0.286, 0.387, 0.507, 0.608, 0.708, 0.81, 0.91, 1];
const colorValues = ["#2c7fc4", "#2268b0", "#4f58a5", "#6a4b97", "#8b3088", "#a8208a", "#c0147f", "#d91270", "#e8145c", "#eb1a4f"];

const FONT = "'Liberation Serif', 'Times New Roman', serif";

// layout of each subplot in page pixels
const panels = [
  { labels: aLabels, bars: aBars, swarm: aSwarm, x0: 219, x1: 1150, yTop: 119, yBottom: 1115, row0: 174.5, rowN: 1060, barH: 38, title: 61, xlabel: 0, topTick: 96, bottomTick: 1156, note: "(a) 0.5 pts/m²", noteX: 751, noteY: 996, noteSize: 65, clipX: 0, lim: 30, topMax: 10, stroke: 3.5 },
  { labels: bLabels, bars: bBars, swarm: bSwarm, x0: 1384.4, x1: 2315.8, yTop: 105, yBottom: 1113.5, row0: 154, rowN: 1062, barH: 35, title: 51, xlabel: 0, topTick: 84, bottomTick: 1152, note: "(b) 1 pts/m²", noteX: 1927, noteY: 997, noteSize: 66, clipX: 0, lim: 30, topMax: 10, stroke: 3.5 },
  { labels: cLabels, bars: cBars, swarm: cSwarm, x0: 2523.7, x1: 3455, yTop: 108.7, yBottom: 1110, row0: 160, rowN: 1057.6, barH: 36, title: 52, xlabel: 0, topTick: 86, bottomTick: 1150, note: "(c) 2 pts/m²", noteX: 3101, noteY: 982, noteSize: 65.5, clipX: 0, lim: 30, topMax: 10, stroke: 3 },
  { labels: dLabels, bars: dBars, swarm: dSwarm, x0: 243.4, x1: 1174, yTop: 1277.7, yBottom: 2258, row0: 1334, rowN: 2200, barH: 40, title: 0, xlabel: 2346, topTick: 1255, bottomTick: 2300, note: "(d) 5 pts/m²", noteX: 796, noteY: 2141, noteSize: 65, clipX: 1182, lim: 30, topMax: 10, stroke: 3 },
  { labels: eLabels, bars: eBars, swarm: eSwarm, x0: 1371, x1: 2301.7, yTop: 1275.4, yBottom: 2262.6, row0: 1329.8, rowN: 2207.5, barH: 37.5, title: 0, xlabel: 2347, topTick: 1253, bottomTick: 2304, note: "(e) 10 pts/m²", noteX: 1928, noteY: 2141, noteSize: 65, clipX: 0, lim: 30, topMax: 10, stroke: 3 },
  { labels: fLabels, bars: fBars, swarm: fSwarm, x0: 2603, x1: 3466.5, yTop: 1282, yBottom: 2253.5, row0: 1342, rowN: 2191.5, barH: 41, title: 0, xlabel: 2346, topTick: 1257, bottomTick: 2298, note: "(f) Sentinel-2", noteX: 3093, noteY: 2141, noteSize: 66, clipX: 0, lim: 15, topMax: 5, stroke: 2.5 },
];

// "x:n:c:c2" tokens into columns, colour carried forward
function parseRow(row: string) {
  let c = 0;
  return row.split(" ").map((token) => {
    const parts = token.split(":").map(Number);
    if (parts.length > 2) c = parts[2];
    return { x: parts[0], n: parts[1], c, c2: parts.length > 3 ? parts[3] : c };
  });
}

const App: React.FC = () => {
  const svgRef = useRef<SVGSVGElement | null>(null);

  useEffect(() => {
    if (!svgRef.current) return;
    const svg = d3.select(svgRef.current);
    svg.selectAll("*").remove();

    const color = d3.scaleLinear<string>().domain(colorStops).range(colorValues);
    const defs = svg.append("defs");

    panels.forEach((p, pi) => {
      const g = svg.append("g");
      if (p.clipX) {
        defs.append("clipPath").attr("id", `clip${pi}`).append("rect").attr("x", 0).attr("y", 1150).attr("width", p.clipX).attr("height", 1242);
        g.attr("clip-path", `url(#clip${pi})`);
      }

      const xShap = d3.scaleLinear().domain([-p.lim, p.lim]).range([p.x0, p.x1]);
      const xMean = d3.scaleLinear().domain([0, p.topMax]).range([p.x0, p.x1]);
      const y = d3.scalePoint<string>().domain(p.labels).range([p.row0, p.rowN]);

      // dotted row guides
      g.selectAll("line.guide")
        .data(p.labels)
        .enter()
        .append("line")
        .attr("x1", p.x0)
        .attr("x2", p.x1)
        .attr("y1", (d) => y(d)!)
        .attr("y2", (d) => y(d)!)
        .attr("stroke", "#e6e6e6")
        .attr("stroke-width", 1.5)
        .attr("stroke-dasharray", "2 3");

      g.selectAll("rect.bar")
        .data(p.bars)
        .enter()
        .append("rect")
        .attr("x", p.x0)
        .attr("y", (_, i) => y(p.labels[i])! - p.barH / 2)
        .attr("width", (d) => xMean(d) - p.x0)
        .attr("height", p.barH)
        .attr("fill", "#98c3e5");

      g.append("line")
        .attr("x1", xShap(0))
        .attr("x2", xShap(0))
        .attr("y1", p.yTop)
        .attr("y2", p.yBottom)
        .attr("stroke", "#8a8a8a")
        .attr("stroke-width", 3);

      const isSentinel = p.lim === 15;
      const spacing = isSentinel ? 5 : 4.8;
      const radius = isSentinel ? 4 : 3.7;
      const stagger = isSentinel ? 3.6 : 3;
      p.swarm.forEach((row, ri) => {
        const cy = y(p.labels[ri])!;
        const dots: { x: number; dx: number; y: number; c: number }[] = [];
        parseRow(row).forEach((col) => {
          for (let k = 0; k < col.n; k++) {
            dots.push({
              x: col.x,
              // every other dot of a tall column sits half a step aside, as in a swarm
              dx: col.n > 2 ? (k % 2 ? stagger / 2 : -stagger / 2) : 0,
              y: cy + (k - (col.n - 1) / 2) * spacing,
              c: k % 2 ? col.c2 : col.c,
            });
          }
        });
        g.append("g")
          .selectAll("circle")
          .data(dots)
          .enter()
          .append("circle")
          .attr("cx", (d) => xShap(d.x) + d.dx)
          .attr("cy", (d) => d.y)
          .attr("r", radius)
          .attr("fill", (d) => color(d.c));
      });

      // frame
      g.append("rect")
        .attr("x", p.x0)
        .attr("y", p.yTop)
        .attr("width", p.x1 - p.x0)
        .attr("height", p.yBottom - p.yTop)
        .attr("fill", "none")
        .attr("stroke", "#4d4d4d")
        .attr("stroke-width", p.stroke);

      const topAxis = d3.axisTop(xMean).tickValues(d3.range(0, p.topMax + 1)).tickSize(5).tickFormat(d3.format("d"));
      const bottomStep = isSentinel ? 5 : 10;
      const bottomAxis = d3.axisBottom(xShap).tickValues(d3.range(-p.lim, p.lim + 1, bottomStep)).tickSize(5).tickFormat(d3.format("d"));
      const fontSize = isSentinel ? 44 : 42;

      const top = g.append("g").attr("transform", `translate(0,${p.yTop})`).call(topAxis);
      const bottom = g.append("g").attr("transform", `translate(0,${p.yBottom})`).call(bottomAxis);
      [top, bottom].forEach((ax) => {
        ax.select(".domain").remove();
        ax.selectAll("line").attr("stroke", "#4d4d4d").attr("stroke-width", 2);
        ax.selectAll("text").attr("font-family", FONT).attr("font-weight", "bold").attr("font-size", fontSize).attr("fill", "#111").attr("dy", 0);
      });
      top.selectAll("text").attr("y", p.topTick - p.yTop);
      bottom.selectAll("text").attr("y", p.bottomTick - p.yBottom);

      g.selectAll("text.rowlabel")
        .data(p.labels)
        .enter()
        .append("text")
        .attr("x", p.x0 - 9)
        .attr("y", (d) => y(d)! + 14)
        .attr("text-anchor", "end")
        .attr("font-family", FONT)
        .attr("font-weight", "bold")
        .attr("font-size", isSentinel ? 44 : 43)
        .attr("fill", "#111")
        .text((d) => d);

      const cx = (p.x0 + p.x1) / 2;
      if (p.title) {
        g.append("text")
          .attr("x", cx)
          .attr("y", p.title)
          .attr("text-anchor", "middle")
          .attr("font-family", FONT)
          .attr("font-weight", "bold")
          .attr("font-size", 43)
          .attr("fill", "#222")
          .text("Mean Shapley Value (Feature Importance)");
      }
      if (p.xlabel) {
        g.append("text")
          .attr("x", cx)
          .attr("y", p.xlabel)
          .attr("text-anchor", "middle")
          .attr("font-family", FONT)
          .attr("font-weight", "bold")
          .attr("font-size", isSentinel ? 45.5 : 43)
          .attr("fill", "#222")
          .text("Shapley Value Contribution");
      }

      g.append("text")
        .attr("x", p.noteX)
        .attr("y", p.noteY)
        .attr("font-family", FONT)
        .attr("font-weight", "bold")
        .attr("font-size", p.noteSize)
        .attr("fill", "#111")
        .text(p.note);
    });

    // colour bar
    const grad = defs.append("linearGradient").attr("id", "valueBar").attr("x1", 0).attr("x2", 0).attr("y1", 1).attr("y2", 0);
    colorStops.forEach((s, i) => {
      grad.append("stop").attr("offset", s).attr("stop-color", colorValues[i]);
    });
    svg.append("rect").attr("x", 3521).attr("y", 220).attr("width", 26).attr("height", 1998).attr("fill", "url(#valueBar)");

    const barText = (txt: string, x: number, yy: number, size: number) =>
      svg.append("text").attr("x", x).attr("y", yy).attr("font-family", FONT).attr("font-weight", "bold").attr("font-size", size).attr("fill", "#111").text(txt);
    barText("High", 3596, 258, 72);
    barText("Low", 3583, 2213, 73);
    barText("Value", 0, 0, 88).attr("text-anchor", "middle").attr("transform", "translate(3698,1185) rotate(-90)");
  }, []);

  return <svg ref={svgRef} width={3776} height={2392} style={{ position: "absolute", left: 0, top: 0, background: "#fff", filter: "blur(0.8px)" }} />;
};

export default App;
